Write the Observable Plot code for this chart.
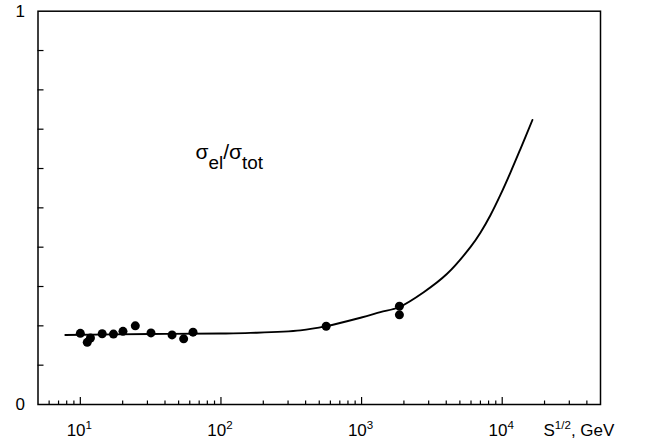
<!DOCTYPE html>
<html><head><meta charset="utf-8">
<script src="https://cdn.jsdelivr.net/npm/d3@7"></script>
<script src="https://cdn.jsdelivr.net/npm/@observablehq/plot@0.6"></script>
<style>body{margin:0;background:#fff} svg{display:block}</style>
</head><body><div id="chart"></div>
<script>
// measured points: sqrt(s) in GeV, sigma_el / sigma_tot
const sqrtS = [10, 11.2, 11.8, 14.3, 17.2, 20.1, 24.6, 31.8, 44.9, 54.3, 63.3, 560, 1858, 1858];
const ratio = [0.181, 0.158, 0.169, 0.180, 0.179, 0.186, 0.200, 0.182, 0.177, 0.167, 0.184, 0.199, 0.250, 0.228];
// model curve
const curveS = [7.82, 31.5, 99, 162, 367, 559, 997, 1360, 1857, 2765, 4056, 5940, 6998, 8245, 9710, 11440, 13470, 16400];
const curveRatio = [0.1767, 0.1793, 0.1805, 0.1820, 0.1885, 0.1991, 0.2212, 0.2347, 0.2479, 0.2855, 0.3323, 0.400, 0.4368, 0.4813, 0.5329, 0.5896, 0.6494, 0.7234];
// ticks and labels
const xMajorTicks = [10, 100, 1000, 10000];
const xMajorLabels = ["10^{1}", "10^{2}", "10^{3}", "10^{4}"];
const xMinorTicks = [6, 7, 8, 9, 20, 30, 40, 50, 60, 70, 80, 90, 200, 300, 400, 500, 600, 700, 800, 900,
  2000, 3000, 4000, 5000, 6000, 7000, 8000, 9000, 20000, 30000, 40000];
const yMinorTicks = [0.1, 0.2, 0.3, 0.4, 0.5, 0.6, 0.7, 0.8, 0.9];
const yLabelTicks = [0, 1];
const yLabelText = ["0", "1"];
const xTitle = "S^{1/2}, GeV";
const seriesLabel = "σ_{el}/σ_{tot}";

const xDomain = [5, 50000];
const yDomain = [0, 1];
const points = sqrtS.map((s, i) => ({s, r: ratio[i]}));
const curve = curveS.map((s, i) => ({s, r: curveRatio[i]}));
const xLabelOf = new Map(xMajorTicks.map((t, i) => [t, xMajorLabels[i]]));
const yLabelOf = new Map(yLabelTicks.map((t, i) => [t, yLabelText[i]]));

const chart = Plot.plot({
  width: 649, height: 445,
  marginLeft: 37.5, marginRight: 49, marginTop: 10.7, marginBottom: 41,
  style: {fontFamily: "'Liberation Sans', Arial, sans-serif", fontSize: "16px", color: "#000", background: "#fff"},
  x: {type: "log", domain: xDomain, axis: null},
  y: {domain: yDomain},
  marks: [
    // inward ticks drawn as short rules sitting on the frame edges
    Plot.ruleX(xMajorTicks, {x: d => d, y1: yDomain[0], y2: yDomain[0], insetTop: 0, insetBottom: 7, stroke: "#000", strokeWidth: 1.2}),
    Plot.ruleX(xMinorTicks, {x: d => d, y1: yDomain[0], y2: yDomain[0], insetTop: 0, insetBottom: 3.5, stroke: "#000", strokeWidth: 1.2}),
    Plot.ruleY(yMinorTicks, {y: d => d, x1: xDomain[0], x2: xDomain[0], insetLeft: 0, insetRight: -6, stroke: "#000", strokeWidth: 1.2}),
    Plot.axisY({ticks: yLabelTicks, tickSize: 0, tickPadding: 13, fontSize: 17, label: null,
      tickFormat: d => yLabelOf.get(d)}),
    Plot.text(xMajorTicks, {x: d => d, y: 0, dy: 31, dx: -1, lineAnchor: "bottom", textAnchor: "middle",
      text: d => xLabelOf.get(d), fontSize: 17}),
    Plot.text([xTitle], {frameAnchor: "bottom-right", dx: -57, dy: 31, lineAnchor: "bottom", textAnchor: "start",
      text: d => d, fontSize: 17}),
    Plot.text([seriesLabel], {frameAnchor: "top-left", dx: 157.5, dy: 147.3, lineAnchor: "bottom", textAnchor: "start",
      text: d => d, fontSize: 21}),
    Plot.line(curve, {x: "s", y: "r", curve: "catmull-rom", stroke: "#000", strokeWidth: 1.9}),
    Plot.dot(points, {x: "s", y: "r", r: 4.5, fill: "#000", stroke: "none"}),
    Plot.frame({stroke: "#000", strokeWidth: 1.5})
  ]
});
document.getElementById("chart").append(chart);

// render ^{...} as superscript and _{...} as subscript (sizes relative to the text's own size)
function richify(svg) {
  svg.querySelectorAll("text").forEach(t => {
    const s = t.textContent;
    if (!/[\^_]\{/.test(s)) return;
    const parts = [];
    const re = /([\^_])\{([^}]*)\}/g;
    let last = 0, m;
    while ((m = re.exec(s))) {
      if (m.index > last) parts.push({text: s.slice(last, m.index), mode: "n"});
      parts.push({text: m[2], mode: m[1] === "^" ? "sup" : "sub"});
      last = re.lastIndex;
    }
    if (last < s.length) parts.push({text: s.slice(last), mode: "n"});
    t.textContent = "";
    let cur = 0;
    for (const p of parts) {
      const ts = document.createElementNS("http://www.w3.org/2000/svg", "tspan");
      let target = 0, k = 1;
      if (p.mode === "sup") { target = -0.36; k = 0.68; }
      if (p.mode === "sub") { target = 0.5; k = 0.9; }
      ts.setAttribute("dy", ((target - cur) / k).toFixed(3) + "em");
      if (k !== 1) ts.setAttribute("font-size", Math.round(k * 100) + "%");
      ts.textContent = p.text;
      cur = target;
      t.appendChild(ts);
    }
  });
}
richify(chart);
</script>
</body></html>
